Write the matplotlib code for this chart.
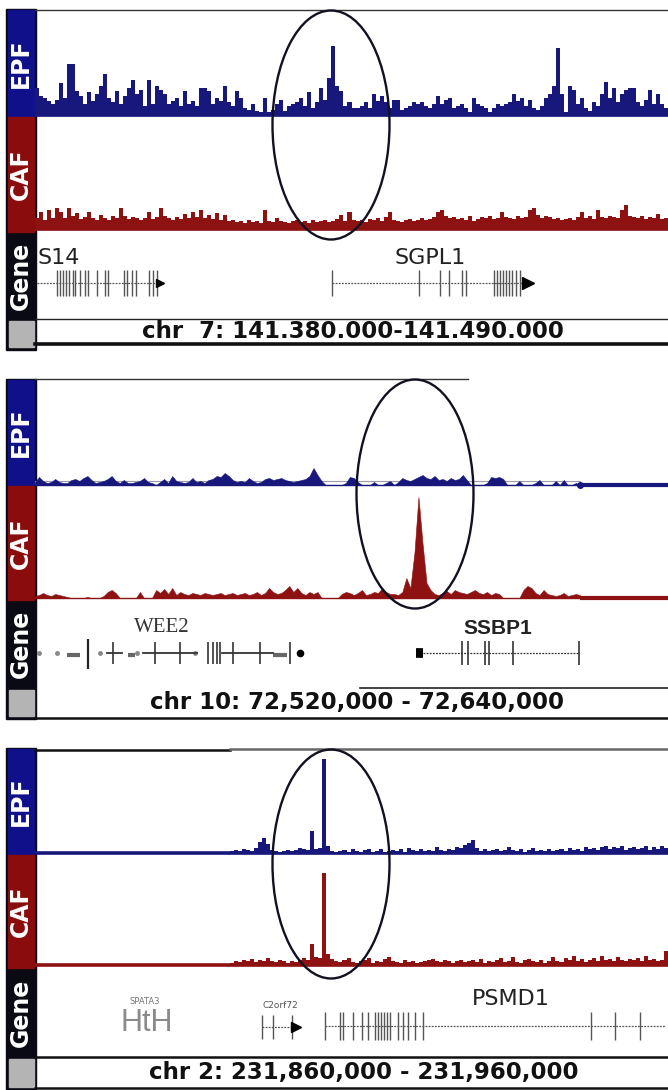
import numpy as np
import matplotlib
import matplotlib.pyplot as plt
from matplotlib.patches import Rectangle, Ellipse

W, H = 668, 1090

# ---- data -------------------------------------------------------------
region_labels = ['chr  7: 141.380.000-141.490.000',
                 'chr 10: 72,520,000 - 72,640,000',
                 'chr 2: 231,860,000 - 231,960,000']
region_len_kb = [110, 120, 100]

# extent of the read coverage in each window (kb from window start)
epf_span = [(0, 110), (0, 103.3), (30.8, 100)]
caf_span = [(0, 110), (0, 103.3), (30.8, 100)]

epf_1 = [28, 20, 18, 15, 12, 16, 33, 18, 52, 52, 25, 20, 12, 24, 15, 22, 30, 42, 18, 14,
         25, 12, 20, 28, 36, 22, 26, 10, 36, 12, 30, 26, 22, 12, 15, 18, 10, 25, 12, 15,
         10, 28, 28, 25, 12, 18, 15, 30, 14, 10, 25, 18, 8, 6, 12, 5, 4, 18, 4, 6,
         12, 16, 5, 10, 12, 14, 18, 10, 24, 8, 14, 28, 16, 38, 70, 30, 25, 10, 14, 8,
         8, 10, 14, 8, 22, 15, 20, 14, 8, 16, 16, 6, 8, 10, 14, 12, 14, 10, 8, 12,
         20, 12, 16, 18, 8, 10, 12, 8, 4, 18, 12, 10, 8, 4, 8, 12, 10, 12, 14, 22,
         15, 18, 10, 16, 8, 6, 10, 18, 22, 30, 68, 22, 4, 30, 26, 12, 18, 8, 5, 14,
         10, 22, 34, 18, 28, 14, 22, 26, 28, 28, 14, 10, 16, 26, 12, 22, 12, 8]
caf_1 = [12, 18, 10, 20, 12, 22, 18, 12, 22, 14, 17, 11, 13, 18, 12, 10, 15, 12, 10, 14,
         12, 22, 14, 11, 13, 12, 10, 12, 18, 11, 13, 22, 14, 12, 10, 13, 11, 16, 12, 18,
         13, 20, 12, 15, 11, 17, 10, 15, 9, 10, 8, 9, 7, 10, 8, 9, 7, 20, 9, 8,
         12, 9, 8, 7, 9, 10, 8, 9, 7, 10, 8, 9, 10, 8, 9, 11, 15, 9, 18, 10,
         9, 10, 8, 11, 10, 12, 9, 13, 18, 10, 9, 8, 10, 11, 9, 10, 12, 10, 11, 13,
         18, 20, 14, 12, 13, 11, 12, 10, 14, 9, 11, 13, 12, 14, 11, 12, 18, 13, 12, 11,
         14, 12, 13, 20, 22, 15, 12, 14, 13, 11, 12, 10, 11, 12, 10, 13, 18, 12, 14, 11,
         20, 13, 12, 14, 13, 12, 20, 25, 14, 13, 12, 14, 11, 13, 12, 16, 11, 12]

epf_2 = [3, 8, 4, 2, 3, 6, 3, 2, 2, 5, 6, 4, 7, 9, 5, 2, 3, 4, 6, 9,
         4, 2, 5, 2, 2, 3, 4, 7, 3, 2, 0, 3, 6, 2, 9, 4, 3, 2, 3, 7,
         3, 4, 2, 5, 6, 9, 8, 12, 9, 5, 3, 4, 3, 7, 4, 2, 3, 6, 7, 5,
         6, 7, 5, 4, 3, 4, 5, 6, 9, 17, 10, 4, 0, 0, 0, 0, 0, 2, 8, 7,
         3, 0, 0, 0, 3, 0, 0, 2, 4, 0, 3, 7, 5, 4, 6, 8, 10, 7, 6, 9,
         5, 6, 4, 7, 5, 6, 10, 5, 0, 0, 0, 0, 2, 8, 7, 8, 6, 0, 0, 0,
         4, 0, 0, 0, 2, 5, 0, 0, 0, 4, 0, 5, 0, 0, 2, 0]
caf_2 = [2, 3, 5, 3, 2, 4, 3, 2, 1, 0, 0, 0, 0, 1, 0, 0, 0, 2, 6, 8,
         5, 0, 0, 0, 0, 0, 6, 0, 0, 0, 8, 5, 9, 4, 10, 3, 6, 4, 3, 5,
         4, 3, 5, 4, 3, 4, 5, 3, 4, 5, 3, 4, 5, 3, 4, 6, 3, 5, 10, 6,
         4, 5, 8, 12, 6, 10, 5, 3, 6, 4, 6, 0, 0, 0, 0, 0, 4, 6, 5, 3,
         5, 8, 3, 4, 6, 5, 10, 6, 4, 4, 3, 6, 20, 10, 45, 101, 55, 15, 8, 4,
         3, 5, 7, 4, 8, 6, 5, 4, 6, 8, 5, 4, 6, 3, 5, 4, 0, 0, 0, 0,
         0, 8, 12, 10, 5, 3, 8, 4, 3, 2, 3, 5, 2, 3, 4, 3]

epf_3 = [3, 4, 3, 5, 4, 3, 6, 12, 16, 10, 4, 3, 2, 3, 4, 3, 4, 6, 5, 4,
         23, 5, 6, 95, 8, 3, 2, 3, 4, 2, 5, 3, 2, 4, 5, 2, 3, 5, 2, 3,
         4, 3, 5, 2, 6, 4, 3, 5, 3, 4, 3, 7, 4, 3, 5, 4, 7, 6, 9, 11,
         14, 6, 3, 5, 3, 4, 5, 3, 4, 7, 4, 3, 5, 2, 4, 6, 3, 4, 3, 5,
         3, 4, 5, 3, 6, 4, 5, 3, 7, 5, 6, 4, 7, 8, 5, 7, 6, 8, 4, 6,
         7, 5, 6, 8, 4, 7, 5, 8, 6]
caf_3 = [3, 5, 4, 6, 5, 7, 4, 6, 5, 8, 5, 4, 6, 5, 3, 5, 4, 6, 8, 6,
         22, 9, 8, 93, 12, 7, 5, 4, 6, 8, 4, 3, 5, 6, 8, 3, 5, 4, 7, 9,
         5, 4, 3, 6, 4, 5, 3, 4, 5, 6, 7, 5, 4, 6, 5, 3, 5, 6, 4, 5,
         6, 4, 7, 3, 5, 4, 6, 8, 4, 5, 9, 4, 3, 6, 7, 5, 4, 6, 3, 5,
         9, 5, 4, 8, 6, 10, 5, 7, 4, 6, 8, 5, 10, 6, 7, 5, 9, 6, 5, 7,
         6, 8, 5, 10, 6, 7, 5, 6, 15]

# gene models, kb from window start
s14_line = (0.3, 21.7)
s14_exons = [3.8, 4.3, 4.9, 5.4, 5.9, 6.6, 7.0, 7.8, 8.7, 9.2, 10.8, 12.2, 12.7,
             15.5, 16.0, 16.9, 17.6, 19.8, 20.5, 21.2]
sgpl1_line = (51.6, 85.7)
sgpl1_exons = [51.6, 66.7, 70.4, 71.9, 74.2, 74.9, 79.8, 80.3, 80.8, 81.3, 81.9,
               82.4, 82.9, 83.6, 84.3]

wee2_dots = [0.8, 4.2, 12.3, 19.3, 30.3]
wee2_dashes = [(6.1, 8.5), (17.6, 19.0), (45.1, 47.8)]
wee2_lines = [(13.6, 16.5), (20.5, 30.7), (35.4, 45.1)]
wee2_exons = [14.8, 22.7, 27.5, 32.8, 33.7, 34.5, 35.1, 37.5, 42.7, 48.3]
wee2_tall = 10.0
wee2_end = 50.2
ssbp1_box = (72.2, 73.6)
ssbp1_line = (73.6, 103.1)
ssbp1_exons = [80.9, 82.1, 85.3, 86.1, 90.6, 103.1]

c2orf72_line = (35.9, 41.9)
c2orf72_exons = [35.9, 37.6, 40.6]
psmd1_line = (45.8, 99.5)
psmd1_exons = [45.8, 48.2, 48.7, 50.2, 51.7, 52.6, 53.7, 54.2, 54.7, 55.1, 55.6,
               56.1, 57.3, 58.1, 58.9, 60.0, 61.3, 87.8, 91.6, 95.6]

# ---- styling ---------------------------------------------------------
EPF_LABEL, CAF_LABEL = '#10108a', '#8a0c0c'
EPF_COL, CAF_COL = '#17177c', '#8e1212'
GENE_COL = '#555555'

# panel layout in pixels: top, epf/caf border, caf/gene border, gene end, bottom
panels = [dict(top=9, e=117, c=232, g=319, bot=350),
          dict(top=379, e=486, c=600, g=688, bot=719),
          dict(top=748, e=855, c=968, g=1057, bot=1090)]

fig = plt.figure(figsize=(W / 100, H / 100), dpi=100)


def px_axes(x0, y0, x1, y1, z=1):
    ax = fig.add_axes([x0 / W, 1 - y1 / H, (x1 - x0) / W, (y1 - y0) / H], zorder=z)
    ax.set_axis_off()
    return ax


canvas = px_axes(0, 0, W, H, z=0)
canvas.set_xlim(0, W)
canvas.set_ylim(H, 0)
overlay = px_axes(0, 0, W, H, z=10)
overlay.set_xlim(0, W)
overlay.set_ylim(H, 0)

# label column
for p in panels:
    canvas.add_patch(Rectangle((6, p['top']), 30, p['bot'] - p['top'], color='#0a0a14'))
    canvas.add_patch(Rectangle((8, p['top'] + 1), 26, p['e'] - p['top'] - 1, color=EPF_LABEL))
    canvas.add_patch(Rectangle((8, p['e']), 26, p['c'] - p['e'], color=CAF_LABEL))
    canvas.add_patch(Rectangle((9, p['g'] + 2), 25, p['bot'] - p['g'] - 5, color='#b4b4b4'))
    for txt, y0, y1 in [('EPF', p['top'], p['e']), ('CAF', p['e'], p['c']), ('Gene', p['c'], p['g'])]:
        canvas.text(21, (y0 + y1) / 2, txt, rotation=90, color='white', fontsize=17,
                    fontweight='bold', ha='center', va='center', family='DejaVu Sans')

# frame lines
canvas.plot([35, 668], [10, 10], color='#333333', lw=1)
canvas.plot([35, 668], [318.5, 318.5], color='#222222', lw=1)
canvas.plot([35, 668], [344, 344], color='#111111', lw=2.6)
canvas.plot([35, 468], [379, 379], color='#333333', lw=1)
canvas.plot([360, 668], [688, 688], color='#222222', lw=1.2)
canvas.plot([35, 668], [718, 718], color='#111111', lw=1.8)
canvas.plot([35, 230], [750, 750], color='#111111', lw=1.8)
canvas.plot([230, 668], [749, 749], color='#666666', lw=1.8)
canvas.plot([35, 668], [1057, 1057], color='#111111', lw=1.8)
canvas.plot([35, 668], [1088, 1088], color='#111111', lw=1.8)

# coordinates
for txt, x, y in zip(region_labels, [353, 357, 364], [332, 703, 1072]):
    canvas.text(x, y, txt, fontsize=16.5, fontweight='bold', color='#111111',
                ha='center', va='center', family='DejaVu Sans')

# ---- signal tracks ----------------------------------------------------
tracks = [(epf_1, caf_1), (epf_2, caf_2), (epf_3, caf_3)]
for i, (p, (ev, cv)) in enumerate(zip(panels, tracks)):
    L = region_len_kb[i]
    for vals, span, col, y0, y1 in [(ev, epf_span[i], EPF_COL, p['top'] + 1, p['e'] - 1),
                                    (cv, caf_span[i], CAF_COL, p['e'], p['c'] - 2)]:
        ax = px_axes(35, y0, 668, y1, z=2)
        ax.set_xlim(0, L)
        ax.set_ylim(0, y1 - y0)
        vals = np.asarray(vals, dtype=float)
        if i == 1:
            x = np.linspace(span[0], span[1], len(vals))
            if col == EPF_COL:
                ax.add_patch(Rectangle((span[0], 0), span[1] - span[0], 4, fc='white',
                                       ec='#9a9aa8', lw=0.8))
            ax.fill_between(x, 0, vals, color=col, lw=0.4)
            ax.plot([span[0], span[1]], [0.5, 0.5], color=col, lw=1, clip_on=False)
            ax.plot([span[1], L], [0.5, 0.5], color=col, lw=3, clip_on=False,
                    solid_capstyle='butt')
            if col == EPF_COL:
                ax.plot([span[1]], [0.5], 'o', color=col, ms=4, clip_on=False)
        else:
            edges = np.linspace(span[0], span[1], len(vals) + 1)
            ax.stairs(vals, edges, fill=True, color=col, lw=0)
            ax.plot([span[0], span[1]], [0.5, 0.5], color=col, lw=1.2, clip_on=False)
            if span[0] > 0:
                ax.plot([0, span[0]], [1, 1], color=col, lw=2.6, clip_on=False,
                        solid_capstyle='butt')

# ---- gene tracks ------------------------------------------------------
def gene_axes(i):
    p = panels[i]
    ax = px_axes(35, p['c'], 668, p['g'], z=3)
    ax.set_xlim(0, region_len_kb[i])
    ax.set_ylim(p['g'] - p['c'], 0)
    return ax


def intron(ax, seg, y, col=GENE_COL):
    ax.plot(seg, [y, y], color=col, lw=0.9, ls=(0, (1.5, 1)))


def exons(ax, xs, y, half=13, col=GENE_COL, lw=1.0):
    ax.vlines(xs, y - half, y + half, color=col, lw=lw)


# window 1
g1 = gene_axes(0)
intron(g1, s14_line, 51)
exons(g1, s14_exons, 51)
g1.plot([s14_line[1]], [51], marker='>', color='black', ms=6)
g1.text(0.5, 26, 'S14', fontsize=16, color='#222222', ha='left', va='center',
        family='DejaVu Sans')
intron(g1, sgpl1_line, 51)
exons(g1, sgpl1_exons, 51)
g1.plot([sgpl1_line[1]], [51], marker='>', color='black', ms=8)
g1.text(68.6, 26, 'SGPL1', fontsize=16, color='#222222', ha='center', va='center',
        family='DejaVu Sans')

# window 2
g2 = gene_axes(1)
y = 53
g2.plot(wee2_dots, [y] * len(wee2_dots), 'o', color='#888888', ms=2.5)
for a, b in wee2_dashes:
    g2.plot([a, b], [y + 2, y + 2], color='#666666', lw=3, solid_capstyle='butt')
for a, b in wee2_lines:
    g2.plot([a, b], [y, y], color='#333333', lw=1.3)
exons(g2, wee2_exons, y, half=11, col='#333333', lw=1.2)
g2.vlines([wee2_tall], y - 14, y + 16, color='#222222', lw=1.6)
g2.plot([wee2_end], [y], marker='o', color='black', ms=5.5, mew=0)
g2.text(24.1, 27, 'WEE2', fontsize=15, color='#333333', ha='center', va='center',
        family='Liberation Serif')
g2.plot(ssbp1_box, [y, y], color='black', lw=7, solid_capstyle='butt')
intron(g2, ssbp1_line, y, col='#333333')
exons(g2, ssbp1_exons, y, half=12, col='#333333', lw=1.2)
g2.text(87.8, 28, 'SSBP1', fontsize=15, fontweight='bold', color='#222222',
        ha='center', va='center', family='Liberation Sans')

# window 3
g3 = gene_axes(2)
g3.text(17.4, 34, 'SPATA3', fontsize=6, color='#777777', ha='center', va='center',
        family='DejaVu Sans')
g3.text(17.7, 55, 'HtH', fontsize=22, color='#8a8a8a', ha='center', va='center',
        family='Liberation Sans')
g3.text(35.9, 37, 'C2orf72', fontsize=6.5, color='#555555', ha='left', va='center',
        family='DejaVu Sans')
intron(g3, c2orf72_line, 59)
exons(g3, c2orf72_exons, 59, half=12)
g3.plot([c2orf72_line[1] - 0.6], [59], marker='>', color='black', ms=7)
intron(g3, psmd1_line, 58)
exons(g3, psmd1_exons, 58, half=14)
g3.text(75.2, 31, 'PSMD1', fontsize=16, color='#222222', ha='center', va='center',
        family='DejaVu Sans')

# ---- highlight ellipses -----------------------------------------------
for cx, cy in [(331, 125), (415, 494), (331, 864)]:
    overlay.add_patch(Ellipse((cx, cy), 117, 229, fill=False, ec='#111122', lw=1.7))

fig.savefig('out.png', dpi=100)
